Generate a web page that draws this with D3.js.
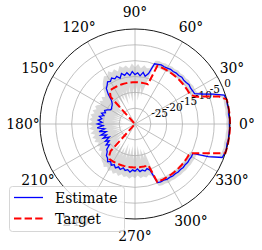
<!DOCTYPE html>
<html>
<head>
<meta charset="utf-8">
<script src="https://cdn.jsdelivr.net/npm/d3@7"></script>
<style>
  body { margin: 0; background: #fff; }
  svg { display: block; font-family: "DejaVu Serif", serif; }
</style>
</head>
<body>
<svg id="polar" width="262" height="250"></svg>
<script>
// angles in degrees (3 deg steps), values in dB
const angles = d3.range(0, 360, 3);

const estimate = [
  -0.2, -0.1, -0.3, -0.1, -0.2, -0.1, -0.4, -3.6, -6.7, -8.9,
  -9.0, -9.1, -8.9, -9.2, -9.3, -9.1, -9.4, -9.3, -9.5, -9.4,
  -9.6, -9.7, -9.6, -9.8, -10.0,
  -13.5, -14.6, -13.5, -14.7, -13.8, -14.4, -13.4, -14.6, -13.6, -14.3,
  -13.5, -14.8, -13.9, -14.4, -13.7, -14.5, -14.1, -15.0,
  -15.6, -17.4, -19.5, -20.3, -20.7, -20.9, -21.2, -21.0, -20.2, -19.5,
  -20.0, -18.9, -19.8, -18.5, -19.4, -18.3, -19.6, -18.1, -19.9, -18.0,
  -20.3, -18.4, -20.6, -18.7, -20.4, -19.0, -20.9, -19.2, -20.3, -18.7,
  -19.6, -18.0, -17.6, -16.5,
  -16.2, -15.3, -15.9, -15.0, -15.6, -14.8, -15.5, -14.9, -15.7, -15.0,
  -15.4, -14.7, -15.5, -15.1, -15.8, -14.9, -15.3, -14.8, -15.4, -14.7,
  -10.2, -10.0, -10.1, -9.8, -9.9, -9.7, -9.8, -9.6, -9.7, -9.5,
  -9.6, -9.4, -9.5, -9.4, -9.5,
  -4.7, -0.5, -0.2, -0.1, -0.3, -0.1, -0.2, -0.1
];

const estimateUpper = [
  0, 0, 0, 0, 0, 0, 0, -2.8, -5.8, -8.0,
  -8.2, -8.0, -8.3, -8.1, -8.4, -8.2, -8.5, -8.3, -8.6, -8.4,
  -8.7, -8.6, -8.8, -8.7, -9.0,
  -11.8, -12.0, -11.2, -12.3, -11.0, -12.1, -10.9, -12.4, -11.3, -11.8,
  -11.0, -12.6, -11.5, -12.2, -11.3, -12.5, -12.0, -12.9,
  -13.8, -15.0, -16.5, -17.2, -16.4, -17.5, -16.6, -17.8, -16.8, -16.2,
  -17.0, -15.9, -16.8, -15.6, -16.4, -15.5, -16.5, -15.3, -16.6, -15.4,
  -16.9, -15.6, -17.0, -15.8, -16.8, -16.0, -17.2, -16.1, -16.9, -15.8,
  -16.5, -15.4, -15.0, -14.3,
  -14.0, -13.2, -13.9, -12.9, -13.6, -12.8, -13.5, -12.7, -13.6, -12.9,
  -13.3, -12.6, -13.4, -12.9, -13.7, -12.8, -13.2, -12.7, -13.3, -12.8,
  -9.0, -8.8, -8.9, -8.6, -8.7, -8.5, -8.6, -8.4, -8.5, -8.3,
  -8.4, -8.2, -8.3, -8.2, -8.3,
  -3.6, 0, 0, 0, 0, 0, 0, 0
];

const estimateLower = [
  -1.2, -1.0, -1.3, -1.1, -1.2, -1.0, -1.6, -4.6, -7.6, -9.8,
  -10.0, -10.2, -9.9, -10.3, -10.4, -10.1, -10.5, -10.4, -10.6, -10.5,
  -10.8, -10.9, -10.7, -11.0, -11.2,
  -17.5, -21.0, -18.0, -22.5, -17.8, -21.5, -18.5, -23.0, -18.0, -22.0,
  -18.8, -23.5, -19.0, -22.0, -19.5, -23.0, -19.8, -22.0,
  -22.5, -24.0, -22.0, -25.5, -23.0, -26.0, -22.5, -25.0, -23.5, -26.5,
  -22.8, -25.5, -23.0, -26.0, -22.5, -25.8, -23.2, -26.5, -22.6, -25.0,
  -23.0, -26.2, -22.5, -25.5, -23.4, -26.0, -22.8, -25.2, -23.0, -26.4,
  -22.4, -24.8, -21.5, -23.5,
  -19.0, -22.5, -18.5, -23.0, -18.8, -22.0, -19.0, -23.5, -18.6, -22.5,
  -19.2, -23.0, -18.8, -22.5, -19.0, -23.2, -18.5, -22.0, -18.8, -21.5,
  -11.4, -11.2, -11.1, -10.9, -11.0, -10.8, -10.9, -10.7, -10.8, -10.6,
  -10.7, -10.5, -10.6, -10.5, -10.6,
  -5.8, -1.5, -1.2, -1.0, -1.3, -1.1, -1.2, -1.0
];

const target = [
  0, 0, 0, 0, 0, 0, -2.0, -5.8, -8.8, -10.0,
  -10.3, -10.3, -10.3, -10.3, -10.3, -10.3, -10.3, -10.3, -10.3, -10.3,
  -10.3, -10.3, -10.3, -10.3,
  -16.8, -16.8, -16.8, -16.8, -16.8, -16.8, -16.8, -16.8, -16.8, -16.8,
  -16.8, -16.8, -16.8, -16.8, -16.8, -16.8, -16.8, -16.8, -16.8,
  -17.5, -18.5,
  -30, -30, -30, -30, -30, -30, -30, -30, -30, -30,
  -30, -30, -30, -30, -30, -30, -30, -30, -30, -30,
  -30, -30, -30, -30, -30, -30, -30, -30, -30, -30, -30,
  -18.5, -17.0,
  -16.3, -16.3, -16.3, -16.3, -16.3, -16.3, -16.3, -16.3, -16.3, -16.3,
  -16.3, -16.3, -16.3, -16.3, -16.3, -16.3, -16.3, -16.3, -16.3,
  -10.4, -10.4, -10.4, -10.4, -10.4, -10.4, -10.4, -10.4, -10.4, -10.4,
  -10.4, -10.4, -10.4, -10.4,
  -9.6, -7.3, -4.2, 0, 0, 0, 0, 0, 0
];

const rTicks = [-25, -20, -15, -10, -5, 0];
const thetaTicks = d3.range(0, 360, 30);

const svg = d3.select('#polar');
const cx = 135, cy = 124, radius = 95;

const r = d3.scaleLinear().domain([-30, 0]).range([0, radius]).clamp(true);
// matplotlib angles go counter-clockwise from east, d3 radial goes clockwise from north
const toRad = (deg) => (90 - deg) * Math.PI / 180;

const g = svg.append('g').attr('transform', `translate(${cx},${cy})`);

const rows = angles.map((a, i) => ({
  a, est: estimate[i], lo: estimateLower[i], hi: estimateUpper[i], tgt: target[i]
}));

// uncertainty band
g.append('path')
  .datum([...rows, rows[0]])
  .attr('fill', '#808080')
  .attr('fill-opacity', 0.3)
  .attr('d', d3.areaRadial()
    .angle((d) => toRad(d.a))
    .innerRadius((d) => r(d.lo))
    .outerRadius((d) => r(d.hi)));

// grid
g.selectAll('.rgrid')
  .data(rTicks.slice(0, -1))
  .enter()
  .append('circle')
  .attr('r', (d) => r(d))
  .attr('fill', 'none')
  .attr('stroke', '#b0b0b0')
  .attr('stroke-width', 0.8);

g.selectAll('.tgrid')
  .data(thetaTicks)
  .enter()
  .append('line')
  .attr('x2', (d) => radius * Math.cos(d * Math.PI / 180))
  .attr('y2', (d) => -radius * Math.sin(d * Math.PI / 180))
  .attr('stroke', '#b0b0b0')
  .attr('stroke-width', 0.8);

// radial tick labels along 22.5 deg
const labelAng = 22.5 * Math.PI / 180;
g.selectAll('.rlabel')
  .data(rTicks)
  .enter()
  .append('text')
  .attr('x', (d) => r(d) * Math.cos(labelAng) + 1.5)
  .attr('y', (d) => -r(d) * Math.sin(labelAng) - 1)
  .attr('font-size', '10.5px')
  .attr('fill', '#000')
  .text((d) => d);

const line = d3.lineRadial()
  .angle((d) => toRad(d.a))
  .radius((d) => r(d.v));

g.append('path')
  .datum([...rows, rows[0]].map((d) => ({ a: d.a, v: d.est })))
  .attr('fill', 'none')
  .attr('stroke', '#0000ff')
  .attr('stroke-width', 1.3)
  .attr('d', line);

g.append('path')
  .datum([...rows, rows[0]].map((d) => ({ a: d.a, v: d.tgt })))
  .attr('fill', 'none')
  .attr('stroke', '#ff0000')
  .attr('stroke-width', 2)
  .attr('stroke-dasharray', '7.4,3.2')
  .attr('d', line);

// outer spine
g.append('circle')
  .attr('r', radius)
  .attr('fill', 'none')
  .attr('stroke', '#000')
  .attr('stroke-width', 0.9);

// angle labels
g.selectAll('.tlabel')
  .data(thetaTicks)
  .enter()
  .append('text')
  .attr('x', (d) => 112 * Math.cos(d * Math.PI / 180))
  .attr('y', (d) => -112 * Math.sin(d * Math.PI / 180))
  .attr('text-anchor', 'middle')
  .attr('dominant-baseline', 'central')
  .attr('font-size', '13.9px')
  .attr('fill', '#000')
  .text((d) => `${d}°`);

// legend, drawn semi-opaque over the 240° label as in the original
const legend = svg.append('g');
legend.append('rect')
  .attr('x', 9.5).attr('y', 186.5)
  .attr('width', 115).attr('height', 45)
  .attr('rx', 3)
  .attr('fill', '#fff').attr('fill-opacity', 0.8)
  .attr('stroke', '#cccccc').attr('stroke-width', 0.8);

const items = [
  { label: 'Estimate', color: '#0000ff', dash: null, width: 1.3 },
  { label: 'Target', color: '#ff0000', dash: '7.4,3.2', width: 2 }
];
items.forEach((it, i) => {
  const y = 197.5 + i * 21;
  legend.append('line')
    .attr('x1', 14).attr('x2', 43).attr('y1', y).attr('y2', y)
    .attr('stroke', it.color)
    .attr('stroke-width', it.width)
    .attr('stroke-dasharray', it.dash);
  legend.append('text')
    .attr('x', 55).attr('y', y)
    .attr('dominant-baseline', 'central')
    .attr('font-size', '13.9px')
    .text(it.label);
});
</script>
</body>
</html>
